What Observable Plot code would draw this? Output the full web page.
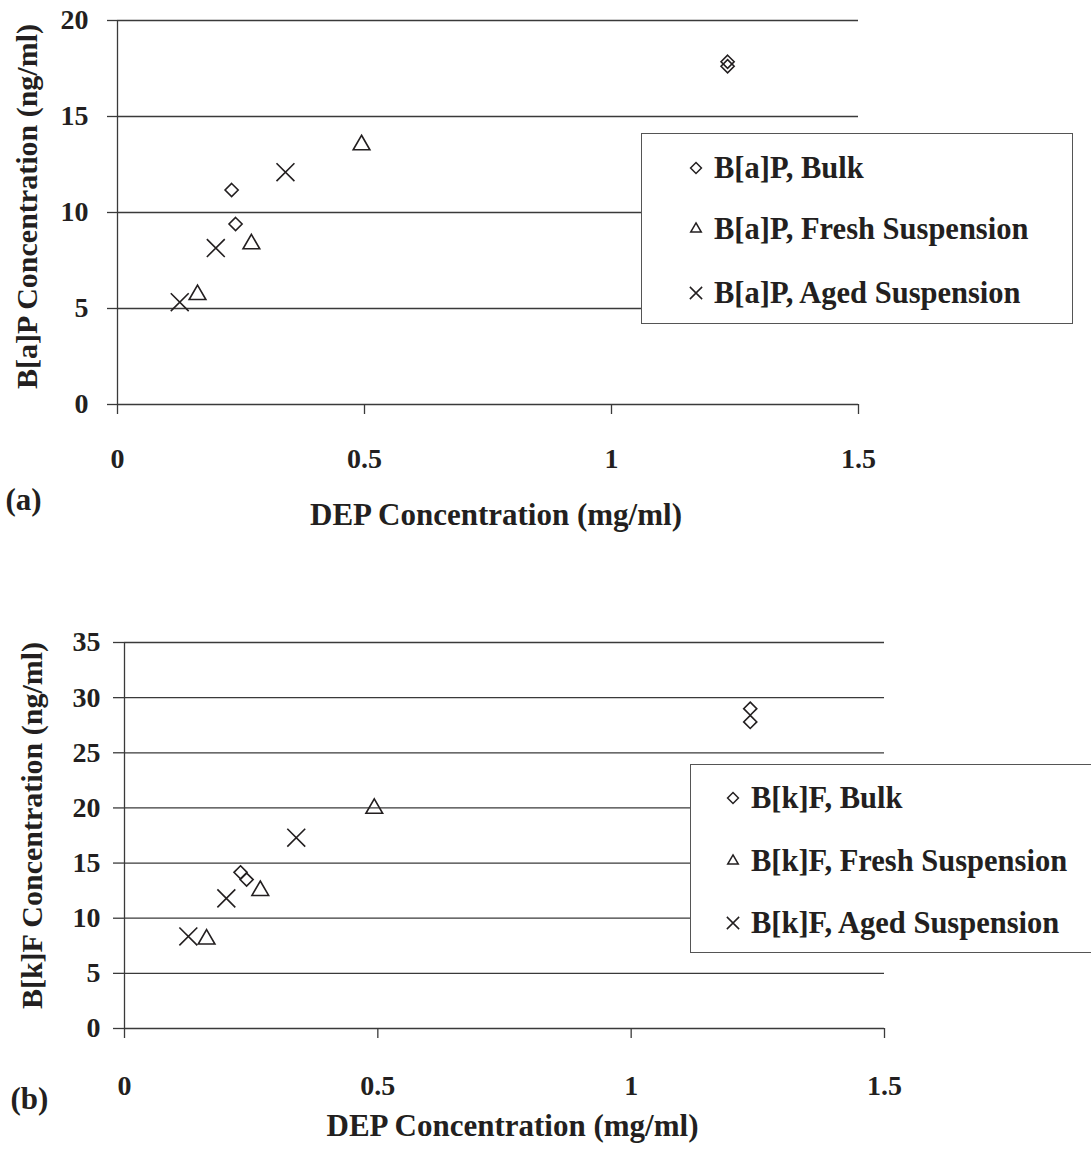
<!DOCTYPE html>
<html><head><meta charset="utf-8">
<script src="https://cdn.jsdelivr.net/npm/d3@7"></script>
<script src="https://cdn.jsdelivr.net/npm/@observablehq/plot@0.6"></script>
<style>
body{margin:0;background:#fff;}
#wrap{position:relative;width:1091px;height:1154px;overflow:hidden;font-family:"Liberation Serif","Times New Roman",serif;font-weight:bold;color:#231f20;background:#fff;}
.panel{position:absolute;left:0;}
.panel text{font-weight:bold;}
.legend{position:absolute;border:1.3px solid #555;background:#fff;box-sizing:border-box;}
.legend .row{position:absolute;font-size:30.5px;white-space:nowrap;line-height:30px;font-weight:bold;}
.legend svg{position:absolute;overflow:visible;}
</style></head><body><div id="wrap"></div>
<script>
// ---- data ----
const xTicks = [0, 0.5, 1, 1.5];
const yTicksA = [0, 5, 10, 15, 20];
const yTicksB = [0, 5, 10, 15, 20, 25, 30, 35];

const seriesNames = ["Bulk", "Fresh Suspension", "Aged Suspension"];
const seriesSymbols = ["diamond2", "triangle", "times"];

// Panel (a) B[a]P
const bapBulkX = [0.231, 0.239, 1.235, 1.235];
const bapBulkY = [11.17, 9.40, 17.85, 17.62];
const bapFreshX = [0.162, 0.271, 0.494];
const bapFreshY = [5.72, 8.36, 13.52];
const bapAgedX = [0.126, 0.199, 0.340];
const bapAgedY = [5.33, 8.15, 12.1];

// Panel (b) B[k]F
const bkfBulkX = [0.229, 0.241, 1.235, 1.235];
const bkfBulkY = [14.16, 13.5, 29.0, 27.8];
const bkfFreshX = [0.162, 0.268, 0.493];
const bkfFreshY = [8.1, 12.5, 19.95];
const bkfAgedX = [0.126, 0.201, 0.339];
const bkfAgedY = [8.35, 11.8, 17.3];

const ink = "#231f20";
const lineCol = "#3a3a3a";
const zip = (xs, ys) => xs.map((x, i) => ({x, y: ys[i]}));

function panel(cfg) {
  return Plot.plot({
    width: 1091, height: cfg.height,
    marginLeft: cfg.ml, marginRight: cfg.mr, marginTop: cfg.mt, marginBottom: cfg.mb,
    style: {fontFamily: "'Liberation Serif', 'Times New Roman', serif", fontWeight: "bold", fontSize: "27px", color: ink, background: "white", overflow: "visible"},
    x: {domain: [0, 1.5]},
    y: {domain: [0, cfg.ymax]},
    marks: [
      Plot.ruleY(cfg.yTicks, {stroke: lineCol, strokeWidth: 1.3}),
      Plot.ruleX([0], {stroke: lineCol, strokeWidth: 1.3}),
      Plot.axisY(cfg.yTicks, {tickSize: cfg.yTickSize, tickPadding: cfg.yPad, label: null, stroke: lineCol, strokeWidth: 1.3, fontSize: 28, fontWeight: "bold", fill: ink, tickFormat: d => String(d)}),
      Plot.axisX(xTicks, {tickSize: 10, tickPadding: cfg.xPad, label: null, stroke: lineCol, strokeWidth: 1.3, fontSize: 28, fontWeight: "bold", fill: ink, tickFormat: d => String(d)}),
      Plot.text([cfg.ytitle], {text: d => d, frameAnchor: "left", textAnchor: "middle", rotate: -90, dx: cfg.ytDx, dy: cfg.ytDy, fontSize: 30, fontWeight: "bold", fill: ink, lineAnchor: "middle"}),
      Plot.text([cfg.xtitle], {text: d => d, frameAnchor: "bottom", textAnchor: "middle", dx: cfg.xtDx, dy: cfg.xtDy, fontSize: 31, fontWeight: "bold", fill: ink, lineAnchor: "middle"}),
      Plot.text([cfg.tag], {text: d => d, frameAnchor: "bottom-left", textAnchor: "start", dx: cfg.tagDx, dy: cfg.tagDy, fontSize: 31, fontWeight: "bold", fill: ink, lineAnchor: "middle"}),
      Plot.dot(zip(cfg.bulkX, cfg.bulkY), {x: "x", y: "y", symbol: "diamond2", r: 5.9, stroke: ink, strokeWidth: 1.6, fill: "none"}),
      Plot.dot(zip(cfg.freshX, cfg.freshY), {x: "x", y: "y", symbol: "triangle", r: 6.2, stroke: ink, strokeWidth: 1.6, fill: "none"}),
      Plot.dot(zip(cfg.agedX, cfg.agedY), {x: "x", y: "y", symbol: "times", r: 8.2, stroke: ink, strokeWidth: 1.6, fill: "none"})
    ]
  });
}

function legend(cfg) {
  const box = document.createElement("div");
  box.className = "legend";
  Object.assign(box.style, {left: cfg.left + "px", top: cfg.top + "px", width: cfg.width + "px", height: cfg.height + "px"});
  const d3types = {diamond2: d3.symbolDiamond2, triangle: d3.symbolTriangle2, times: d3.symbolTimes};
  const sizes = {diamond2: 75, triangle: 80, times: 100};
  seriesNames.forEach((name, i) => {
    const cy = cfg.rows[i];
    const s = d3.create("svg").attr("width", 1).attr("height", 1)
      .style("left", cfg.symX + "px").style("top", cy + "px");
    s.append("path").attr("d", d3.symbol(d3types[seriesSymbols[i]], sizes[seriesSymbols[i]])())
      .attr("fill", "none").attr("stroke", ink).attr("stroke-width", 1.5);
    box.appendChild(s.node());
    const row = document.createElement("div");
    row.className = "row";
    row.textContent = cfg.prefix + ", " + name;
    Object.assign(row.style, {left: cfg.textX + "px", top: (cy - 15) + "px"});
    box.appendChild(row);
  });
  return box;
}

const wrap = document.getElementById("wrap");

const pa = panel({
  height: 560, ml: 117, mr: 233, mt: 20, mb: 156, ymax: 20, yTicks: yTicksA,
  yTickSize: 10, yPad: 19, xPad: 34,
  ytitle: "B[a]P Concentration (ng/ml)", ytDx: -90, ytDy: -6,
  xtitle: "DEP Concentration (mg/ml)", xtDx: 8, xtDy: 111,
  tag: "(a)", tagDx: -112, tagDy: 96,
  bulkX: bapBulkX, bulkY: bapBulkY, freshX: bapFreshX, freshY: bapFreshY, agedX: bapAgedX, agedY: bapAgedY
});
pa.classList.add("panel"); pa.style.top = "0px";
wrap.appendChild(pa);

const pb = panel({
  height: 594, ml: 124, mr: 207, mt: 82, mb: 126, ymax: 35, yTicks: yTicksB,
  yTickSize: 11, yPad: 13, xPad: 37,
  ytitle: "B[k]F Concentration (ng/ml)", ytDx: -92, ytDy: -10,
  xtitle: "DEP Concentration (mg/ml)", xtDx: 8, xtDy: 98,
  tag: "(b)", tagDx: -114, tagDy: 71,
  bulkX: bkfBulkX, bulkY: bkfBulkY, freshX: bkfFreshX, freshY: bkfFreshY, agedX: bkfAgedX, agedY: bkfAgedY
});
pb.classList.add("panel"); pb.style.top = "560px";
wrap.appendChild(pb);

wrap.appendChild(legend({left: 641, top: 133, width: 432, height: 191, symX: 54, textX: 72, rows: [34, 95, 159], prefix: "B[a]P"}));
wrap.appendChild(legend({left: 690, top: 764, width: 430, height: 189, symX: 42, textX: 60, rows: [33, 96, 158], prefix: "B[k]F"}));
</script></body></html>
